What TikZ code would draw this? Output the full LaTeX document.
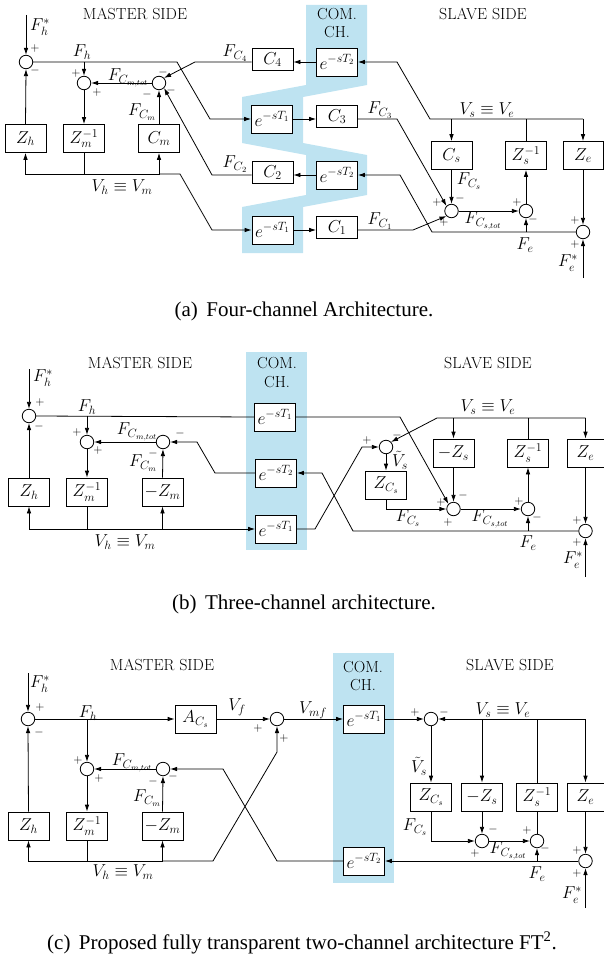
\documentclass[tikz,border=0pt]{standalone}
\usepackage{fontspec}
\newfontfamily\capfont{Liberation Serif}
\usetikzlibrary{arrows.meta}
\definecolor{chblue}{RGB}{190,227,241}
\begin{document}
\begin{tikzpicture}[x=1pt,y=-1pt,line width=0.8pt,
  every node/.style={font=\fontsize{17}{20}\selectfont},
  blk/.style={draw,fill=white,line width=0.8pt,minimum width=41pt,minimum height=28pt,inner sep=1pt},
  cblk/.style={blk,minimum height=22pt,anchor=north},
  zebox/.style={blk,minimum width=37pt},
  sumc/.style={draw,line width=0.8pt,circle,minimum size=13.5pt,inner sep=0pt},
  arr/.style={-{Latex[length=7pt,width=4.6pt]}},
  sg/.style={font=\fontsize{12}{12}\selectfont,inner sep=0pt},
  lb/.style={inner sep=1pt},
  hd/.style={font=\fontsize{16}{19}\selectfont},
  captxt/.style={font=\capfont\fontsize{21}{25}\selectfont}]
\useasboundingbox (0,0) rectangle (604,958);

% ================= (a) =================
\fill[chblue] (306,5) -- (367,5) -- (367,85) -- (303,97) -- (303,143) -- (367,155) -- (367,195) -- (303,207) -- (303,253) -- (242,253) -- (242,207) -- (306,195) -- (306,155) -- (242,143) -- (242,97) -- (306,85) -- cycle;
\node[hd] (aMS) at (135,14) {MASTER SIDE};
\node[hd] (aSS) at (483,14) {SLAVE SIDE};
\node[hd] (aCOM) at (337,14) {COM.};
\node[hd] (aCH) at (337,32) {CH.};

\node[sumc] (aS1) at (26,62) {};
\node[sumc] (aS2) at (84,83) {};
\node[sumc] (aS3) at (159,83) {};
\node[blk] (aZh) at (25.5,138.5) {$Z_h$};
\node[blk] (aZm) at (84,138.5) {$Z_m^{-1}$};
\node[blk] (aCm) at (159,138.5) {$C_m$};
\node[blk] (aD2u) at (337,62) {$e^{-sT_2}$};
\node[blk] (aD1u) at (272,119) {$e^{-sT_1}$};
\node[blk] (aD2l) at (337,175) {$e^{-sT_2}$};
\node[blk] (aD1l) at (272.5,230) {$e^{-sT_1}$};
\node[cblk] (aC4) at (272.5,48) {$C_4$};
\node[cblk] (aC3) at (337,105) {$C_3$};
\node[cblk] (aC2) at (272.5,161) {$C_2$};
\node[cblk] (aC1) at (337,216) {$C_1$};
\node[blk] (aCs) at (451.5,155.5) {$C_s$};
\node[blk] (aZs) at (526,155.5) {$Z_s^{-1}$};
\node[blk,minimum width=40pt] (aZe) at (583,155.5) {$Z_e$};
\node[sumc] (aS4) at (451.5,211) {};
\node[sumc] (aS5) at (526,211) {};
\node[sumc] (aS6) at (583,232) {};
\coordinate (aFhs) at (26,15);
\coordinate (aFes) at (583,278);

\draw[arr] (aFhs) -- (aS1.north);
\draw[arr] (aS1.east) -- (177,62) -- (210,119) -- (aD1u.west);
\draw[arr] (aS2 |- aS1) -- (aS2.north);
\draw[arr] (aS2.south) -- (aZm.north);
\draw[arr] (aZh.north) -- (aS1.south);
\draw (aZm.south) -- (aZm |- 0,174);
\draw[arr] (aZm |- 0,174) -| (aZh.south);
\draw[arr] (aZm |- 0,174) -| (aCm.south);
\draw[arr] (aCm |- 0,174) -- (180,174) -- (212,230) -- (aD1l.west);
\draw[arr] (aCm.north) -- (aS3.south);
\draw[arr] (aS3.west) -- (aS2.east);
\draw[arr] (aC4.west |- aD2u.west) -- (195,62) -- (aS3.north east);
\draw[arr] (aC2.west |- aD2l.west) -- (212,175) -- (aS3.south east);
\draw[arr] (aD2u.west) -- (aC4.east |- aD2u.west);
\draw[arr] (aD1u.east) -- (aC3.west |- aD1u.east);
\draw[arr] (aD1l.east) -- (aC1.west |- aD1l.east);
\draw[arr] (aD2l.west) -- (aC2.east |- aD2l.west);
\draw[arr] (aC3.east |- aD1u.east) -- (397,119) -- (aS4.north west);
\draw[arr] (aC1.east |- aD1l.east) -- (413,230) -- (aS4.south west);
\draw[arr] (aZe |- 0,119) -- (aZe.north);
\draw[arr] (aCs |- 0,119) -- (aCs.north);
\draw (aZs.north) -- (aZs |- 0,119);
\draw[arr] (aZe |- 0,119) -- (430,119) -- (397,62) -- (aD2u.east);
\draw[arr] (aCs.south) -- (aS4.north);
\draw[arr] (aS4.east) -- (aS5.west);
\draw[arr] (aS5.north) -- (aZs.south);
\draw[arr] (aZe.south) -- (aS6.north);
\draw[arr] (aFes) -- (aS6.south);
\draw[arr] (aS6.west) -- (432,232) -- (400,175) -- (aD2l.east);
\draw[arr] (aS5 |- 0,232) -- (aS5.south);

\node[lb] (aLFhs) at (40,27) {$F_h^*$};
\node[lb] (aLFh) at (82,52) {$F_h$};
\node[lb] (aLFcmt) at (128,78) {$F_{C_{m,tot}}$};
\node[lb] (aLFcm) at (142,112) {$F_{C_m}$};
\node[lb] (aLFc4) at (235,53) {$F_{C_4}$};
\node[lb] (aLFc2) at (235,164) {$F_{C_2}$};
\node[lb] (aLFc3) at (380,110) {$F_{C_3}$};
\node[lb] (aLFc1) at (380,221) {$F_{C_1}$};
\node[lb] (aLVh) at (122,187) {$V_h\equiv V_m$};
\node[lb] (aLVs) at (487,110) {$V_s\equiv V_e$};
\node[lb] (aLFcs) at (469,181) {$F_{C_s}$};
\node[lb] (aLFcst) at (483,221) {$F_{C_{s,tot}}$};
\node[lb] (aLFe) at (525,245) {$F_e$};
\node[lb] (aLFes) at (568,263) {$F_e^*$};

\node[sg] (a1p) at (35,49) {$+$};
\node[sg] (a1m) at (35,71) {$-$};
\node[sg] (a2p) at (76,74) {$+$};
\node[sg] (a2q) at (97,92) {$+$};
\node[sg] (a3m) at (163,72) {$-$};
\node[sg] (a3n) at (147,94) {$-$};
\node[sg] (a3o) at (171,90) {$-$};
\node[sg] (a4p) at (437,202) {$+$};
\node[sg] (a4m) at (460,198) {$-$};
\node[sg] (a4q) at (444,222) {$+$};
\node[sg] (a5p) at (517,202) {$+$};
\node[sg] (a5m) at (533,219) {$-$};
\node[sg] (a6p) at (575,220) {$+$};
\node[sg] (a6q) at (575,244) {$+$};

\node[captxt] (acap) at (304,311) {(a)\hspace{0.4em}Four-channel Architecture.};

% ================= (b) =================
\fill[chblue] (246,352) rectangle (307,550);
\node[hd] (bMS) at (140,363) {MASTER SIDE};
\node[hd] (bSS) at (488,363) {SLAVE SIDE};
\node[hd] (bCOM) at (277,363) {COM.};
\node[hd] (bCH) at (277,382) {CH.};

\node[sumc] (bS1) at (29,416) {};
\node[sumc] (bS2) at (87,442) {};
\node[sumc] (bS3) at (163,442) {};
\node[blk] (bZh) at (29,492) {$Z_h$};
\node[blk] (bZm) at (87,492) {$Z_m^{-1}$};
\node[blk] (bmZm) at (162.5,492) {$-Z_m$};
\node[blk] (bD1u) at (275,417) {$e^{-sT_1}$};
\node[blk] (bD2) at (276,473) {$e^{-sT_2}$};
\node[blk] (bD1l) at (276,529) {$e^{-sT_1}$};
\node[sumc] (bS7) at (386,447) {};
\node[blk] (bZCs) at (386,485) {$Z_{C_s}$};
\node[blk] (bmZs) at (453.5,453) {$-Z_s$};
\node[blk] (bZs) at (528,453) {$Z_s^{-1}$};
\node[zebox] (bZe) at (585.5,453) {$Z_e$};
\node[sumc] (bS8) at (453.5,509) {};
\node[sumc] (bS9) at (528,509) {};
\node[sumc] (bS10) at (585.5,531) {};
\coordinate (bFhs) at (29,369);
\coordinate (bFes) at (585.5,577);

\draw[arr] (bFhs) -- (bS1.north);
\draw (bS1.east) -- (bD1u.west);
\draw[arr] (bS2 |- bS1) -- (bS2.north);
\draw[arr] (bS2.south) -- (bZm.north);
\draw[arr] (bZh.north) -- (bS1.south);
\draw[arr] (bS3.west) -- (bS2.east);
\draw[arr] (bmZm.north) -- (bS3.south);
\draw[arr] (bD2.west) -- (215,473) -- (197,442) -- (bS3.east);
\draw (bZm.south) -- (bZm |- 0,529);
\draw[arr] (bZm |- 0,529) -| (bZh.south);
\draw[arr] (bZm |- 0,529) -| (bmZm.south);
\draw[arr] (bmZm |- 0,529) -- (bD1l.west);
\draw[arr] (bD1u.east) -- (400,417) -- (bS8.north west);
\draw[arr] (bD1l.east) -- (315,529) -- (362,447) -- (bS7.west);
\draw[arr] (bZe |- 0,418) -- (bZe.north);
\draw[arr] (bmZs |- 0,418) -- (bmZs.north);
\draw (bZs.north) -- (bZs |- 0,418);
\draw[arr] (bZe |- 0,418) -- (437,418) -- (bS7.north east);
\draw[arr] (bS7.south) -- (bZCs.north);
\draw[arr] (bZCs.south) |- (bS8.west);
\draw[arr] (bmZs.south) -- (bS8.north);
\draw[arr] (bS8.east) -- (bS9.west);
\draw[arr] (bS9.north) -- (bZs.south);
\draw[arr] (bZe.south) -- (bS10.north);
\draw[arr] (bFes) -- (bS10.south);
\draw[arr] (bS10.west) -- (353,531) -- (322,473) -- (bD2.east);
\draw[arr] (bS9 |- 0,531) -- (bS9.south);

\node[lb] (bLFhs) at (43,378) {$F_h^*$};
\node[lb] (bLFh) at (87,407) {$F_h$};
\node[lb] (bLFcmt) at (137,432) {$F_{C_{m,tot}}$};
\node[lb] (bLFcm) at (143,463) {$F_{C_m}$};
\node[lb] (bLVh) at (125,542) {$V_h\equiv V_m$};
\node[lb] (bLVs) at (488,407) {$V_s\equiv V_e$};
\node[lb] (bLVt) at (400,460) {$\tilde V_s$};
\node[lb] (bLFcs) at (408,518) {$F_{C_s}$};
\node[lb] (bLFcst) at (490,519) {$F_{C_{s,tot}}$};
\node[lb] (bLFe) at (528,543) {$F_e$};
\node[lb] (bLFes) at (573,560) {$F_e^*$};

\node[sg] (b1p) at (40,402) {$+$};
\node[sg] (b1m) at (39,426) {$-$};
\node[sg] (b2p) at (77,432) {$+$};
\node[sg] (b2q) at (98,450) {$+$};
\node[sg] (b3m) at (180,433) {$-$};
\node[sg] (b3n) at (153,453) {$-$};
\node[sg] (b7p) at (367,440) {$+$};
\node[sg] (b7m) at (397,435) {$-$};
\node[sg] (b8p) at (441,502) {$+$};
\node[sg] (b8m) at (463,495) {$-$};
\node[sg] (b8q) at (448,522) {$+$};
\node[sg] (b9p) at (519,501) {$+$};
\node[sg] (b9m) at (537,517) {$-$};
\node[sg] (b10p) at (577,520) {$+$};
\node[sg] (b10q) at (577,542) {$+$};

\node[captxt] (bcap) at (304,604) {(b)\hspace{0.4em}Three-channel architecture.};

% ================= (c) =================
\fill[chblue] (333,653) rectangle (394,883);
\node[hd] (cMS) at (162,665) {MASTER SIDE};
\node[hd] (cSS) at (510,665) {SLAVE SIDE};
\node[hd] (cCOM) at (363,667) {COM.};
\node[hd] (cCH) at (363,685) {CH.};

\node[sumc] (cS1) at (28,719) {};
\node[blk] (cAC) at (195.5,719) {$A_{C_s}$};
\node[sumc] (cSf) at (277,719) {};
\node[blk] (cD1) at (364,719) {$e^{-sT_1}$};
\node[sumc] (cS11) at (431,719) {};
\node[sumc] (cS2) at (87,769) {};
\node[sumc] (cS3) at (163,769) {};
\node[blk] (cZh) at (28.5,826) {$Z_h$};
\node[blk] (cZm) at (87,826) {$Z_m^{-1}$};
\node[blk] (cmZm) at (162.5,826) {$-Z_m$};
\node[blk] (cD2) at (364,861) {$e^{-sT_2}$};
\node[blk] (cZCs) at (431,797) {$Z_{C_s}$};
\node[blk] (cmZs) at (482,797) {$-Z_s$};
\node[blk] (cZs) at (537,797) {$Z_s^{-1}$};
\node[zebox] (cZe) at (585.5,797) {$Z_e$};
\node[sumc] (cS12) at (482,841) {};
\node[sumc] (cS13) at (537,841) {};
\node[sumc] (cS14) at (585.5,861) {};
\coordinate (cFhs) at (28,673);
\coordinate (cFes) at (585.5,908);

\draw[arr] (cFhs) -- (cS1.north);
\draw[arr] (cS1.east) -- (cAC.west);
\draw[arr] (cS2 |- cS1) -- (cS2.north);
\draw[arr] (cS2.south) -- (cZm.north);
\draw[arr] (cZh.north) -- (cS1.south);
\draw[arr] (cS3.west) -- (cS2.east);
\draw[arr] (cmZm.north) -- (cS3.south);
\draw[arr] (cAC.east) -- (cSf.west);
\draw[arr] (cSf.east) -- (cD1.west);
\draw[arr] (cD1.east) -- (cS11.west);
\draw[arr] (cZe |- 0,719) -- (cZe.north);
\draw[arr] (cmZs |- 0,719) -- (cmZs.north);
\draw (cZs.north) -- (cZs |- 0,719);
\draw[arr] (cZe |- 0,719) -- (cS11.east);
\draw[arr] (cS11.south) -- (cZCs.north);
\draw[arr] (cZCs.south) |- (cS12.west);
\draw[arr] (cmZs.south) -- (cS12.north);
\draw[arr] (cS12.east) -- (cS13.west);
\draw (cZs.south) -- (cS13.north);
\draw[arr] (cZe.south) -- (cS14.north);
\draw[arr] (cFes) -- (cS14.south);
\draw[arr] (cS14.west) -- (cD2.east);
\draw[arr] (cS13 |- 0,861) -- (cS13.south);
\draw[arr] (cD2.west) -- (277,861) -- (223,769) -- (cS3.east);
\draw (cZm.south) -- (cZm |- 0,861);
\draw[arr] (cZm |- 0,861) -| (cZh.south);
\draw[arr] (cZm |- 0,861) -| (cmZm.south);
\draw[arr] (cmZm |- 0,861) -- (213,861) -- (277,752) -- (cSf.south);

\node[lb] (cLFhs) at (40,684) {$F_h^*$};
\node[lb] (cLFh) at (88,713) {$F_h$};
\node[lb] (cLFcmt) at (132,763) {$F_{C_{m,tot}}$};
\node[lb] (cLFcm) at (147,798) {$F_{C_m}$};
\node[lb] (cLVf) at (237,707) {$V_f$};
\node[lb] (cLVmf) at (313,710) {$V_{mf}$};
\node[lb] (cLVh) at (123,872) {$V_h\equiv V_m$};
\node[lb] (cLVs) at (503,710) {$V_s\equiv V_e$};
\node[lb] (cLVt) at (419,766) {$\tilde V_s$};
\node[lb] (cLFcs) at (415,827) {$F_{C_s}$};
\node[lb] (cLFcst) at (508,851) {$F_{C_{s,tot}}$};
\node[lb] (cLFe) at (537,874) {$F_e$};
\node[lb] (cLFes) at (572,895) {$F_e^*$};

\node[sg] (c1p) at (40,707) {$+$};
\node[sg] (c1m) at (39,732) {$-$};
\node[sg] (c2p) at (78,760) {$+$};
\node[sg] (c2q) at (99,778) {$+$};
\node[sg] (c3m) at (153,781) {$-$};
\node[sg] (c3n) at (173,776) {$-$};
\node[sg] (cfp) at (258,728) {$+$};
\node[sg] (cfq) at (284,738) {$+$};
\node[sg] (c11p) at (415,712) {$+$};
\node[sg] (c11m) at (444,712) {$-$};
\node[sg] (c12m) at (493,829) {$-$};
\node[sg] (c12p) at (475,853) {$+$};
\node[sg] (c13p) at (527,830) {$+$};
\node[sg] (c13m) at (545,848) {$-$};
\node[sg] (c14p) at (577,850) {$+$};
\node[sg] (c14q) at (577,873) {$+$};

\node[captxt] (ccap) at (302,943) {(c)\hspace{0.4em}Proposed fully transparent two-channel architecture FT\textsuperscript{2}.};
\end{tikzpicture}
\end{document}
